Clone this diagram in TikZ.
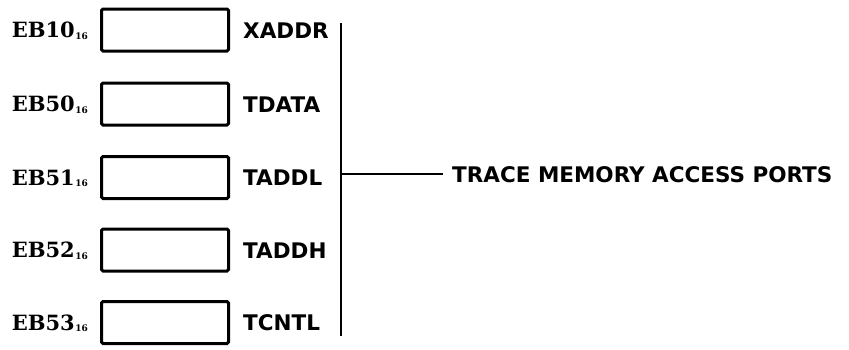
\documentclass[tikz,border=0pt]{standalone}
\usepackage{fontspec}
\newfontfamily\lfont{DejaVu Serif}
\newfontfamily\rfont{DejaVu Sans}
\begin{document}
\begin{tikzpicture}[x=1pt,y=-1pt,
  regbox/.style={draw, line width=3pt, rounded corners=1.5pt, minimum width=127pt, minimum height=42pt, inner sep=0pt},
  addr/.style={anchor=base east, inner sep=0pt, font=\lfont\bfseries\fontsize{21}{21}\selectfont},
  rname/.style={anchor=base west, inner sep=0pt, font=\rfont\bfseries\fontsize{21.5}{21.5}\selectfont},
  conn/.style={line width=1.6pt}]
\useasboundingbox (0,0) rectangle (849,349);
\newcommand{\sixteen}{\kern0.5pt\raisebox{-1.5pt}{\fontsize{9}{9}\selectfont 16}}
% boxes
\node[regbox] (b1) at (165,30) {};
\node[regbox] (b2) at (165,104) {};
\node[regbox] (b3) at (165,177.5) {};
\node[regbox] (b4) at (165,250) {};
\node[regbox] (b5) at (165,322.5) {};
% address labels
\node[addr] (a1) at (88,37.5) {EB10\sixteen};
\node[addr] (a2) at (88,111.5) {EB50\sixteen};
\node[addr] (a3) at (88,185) {EB51\sixteen};
\node[addr] (a4) at (88,257.5) {EB52\sixteen};
\node[addr] (a5) at (88,330) {EB53\sixteen};
% register names
\node[rname] (r1) at (243,38) {XADDR};
\node[rname] (r2) at (243,112) {TDATA};
\node[rname] (r3) at (243,185.5) {TADDL};
\node[rname] (r4) at (243,258) {TADDH};
\node[rname] (r5) at (243,330.5) {TCNTL};
% bracket
\coordinate (top) at (341,23);
\coordinate (bot) at (341,336);
\coordinate (jn) at (341,174);
\node[rname] (ports) at (452,182) {TRACE MEMORY ACCESS PORTS};
\coordinate (pend) at (443,174);
\draw[conn] (top) -- (bot);
\draw[conn] (jn) -- (pend);
\end{tikzpicture}
\end{document}
